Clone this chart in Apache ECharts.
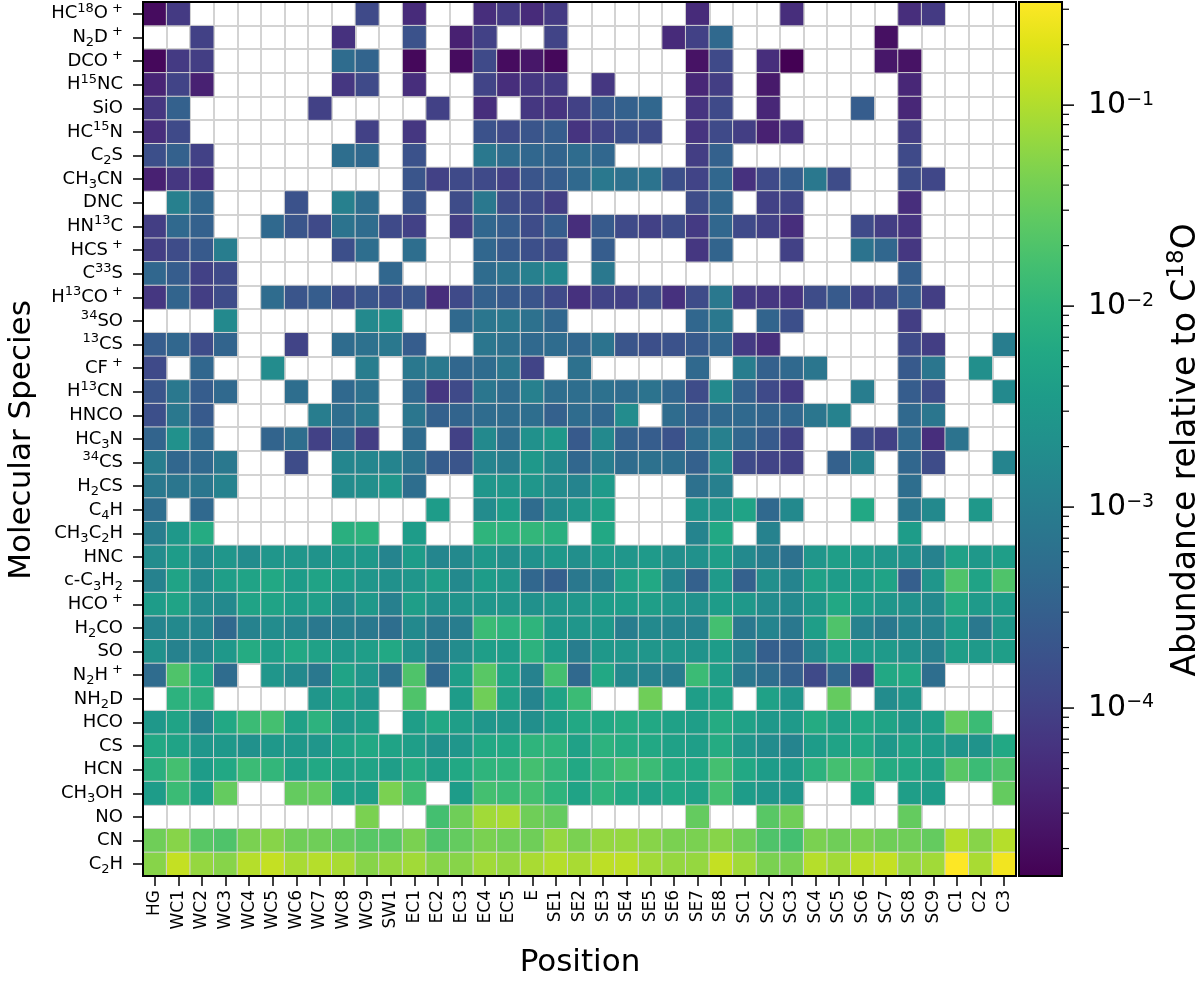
<!DOCTYPE html>
<html>
<head>
<meta charset="utf-8">
<title>Abundance relative to C18O</title>
<script src="https://cdn.jsdelivr.net/npm/echarts@6/dist/echarts.min.js"></script>
<style>
  html, body { margin: 0; padding: 0; background: #fff; }
  #chart { width: 1200px; height: 984px; }
</style>
</head>
<body>
<div id="chart"></div>
<script>
const _ = null;

// positions along the x axis
const positions = ['HG', 'WC1', 'WC2', 'WC3', 'WC4', 'WC5', 'WC6', 'WC7', 'WC8', 'WC9',
  'SW1', 'EC1', 'EC2', 'EC3', 'EC4', 'EC5',
  'E', 'SE1', 'SE2', 'SE3', 'SE4', 'SE5', 'SE6', 'SE7', 'SE8',
  'SC1', 'SC2', 'SC3', 'SC4', 'SC5', 'SC6', 'SC7', 'SC8', 'SC9',
  'C1', 'C2', 'C3'];

// species, top to bottom (^{..} superscript, _{..} subscript)
const species = ['HC^{18}O^{ +}', 'N_{2}D^{ +}', 'DCO^{ +}', 'H^{15}NC', 'SiO', 'HC^{15}N', 'C_{2}S',
  'CH_{3}CN', 'DNC', 'HN^{13}C', 'HCS^{ +}', 'C^{33}S', 'H^{13}CO^{ +}', '^{34}SO', '^{13}CS',
  'CF^{ +}', 'H^{13}CN', 'HNCO', 'HC_{3}N', '^{34}CS', 'H_{2}CS', 'C_{4}H', 'CH_{3}C_{2}H',
  'HNC', 'c-C_{3}H_{2}', 'HCO^{ +}', 'H_{2}CO', 'SO', 'N_{2}H^{ +}', 'NH_{2}D', 'HCO', 'CS',
  'HCN', 'CH_{3}OH', 'NO', 'CN', 'C_{2}H'];

// log10(abundance relative to C18O), one row per species, one column per position
// groups: HG..WC9 | SW1..EC5 | E..SE8 | SC1..SC9 | C1..C3
const logAbundance = [
  [-4.70,-4.10,_,_,_,_,_,_,_,-3.88,  _,-4.31,_,_,-4.27,-4.10,  -4.31,-4.10,_,_,_,_,_,-4.31,_,  _,_,-4.27,_,_,_,_,-4.27,-4.10,  _,_,_],
  [_,_,-4.01,_,_,_,_,_,-4.23,_,  _,-3.75,_,-4.44,-4.01,_,  _,-3.97,_,_,_,_,-4.31,-4.01,-3.36,  _,_,_,_,_,_,-4.66,_,_,  _,_,_],
  [-4.75,-4.10,-4.05,_,_,_,_,_,-3.31,-3.44,  _,-4.75,_,-4.70,-3.88,-4.70,  -4.57,-4.75,_,_,_,_,_,-4.62,-3.88,  _,-4.27,-4.84,_,_,_,-4.57,-4.62,_,  _,_,_],
  [-4.40,-3.97,-4.44,_,_,_,_,_,-4.14,-3.88,  _,-4.27,_,_,-3.97,-4.27,  -4.14,-4.10,_,-4.14,_,_,_,-4.36,-4.05,  _,-4.53,_,_,_,_,_,-4.36,_,  _,_,_],
  [-4.14,-3.49,_,_,_,_,_,-4.01,_,_,  _,_,-4.01,_,-4.27,_,  -4.14,-4.18,-4.01,-3.62,-3.49,-3.40,_,-4.18,-3.88,  _,-4.36,_,_,_,-3.57,_,-4.36,_,  _,_,_],
  [-4.27,-3.88,_,_,_,_,_,_,_,-4.01,  _,-4.14,_,_,-3.75,-3.88,  -3.70,-3.57,-4.18,-3.97,-3.79,-3.88,_,-4.18,-3.88,  -4.05,-4.44,-4.23,_,_,_,_,-4.05,_,  _,_,_],
  [-3.79,-3.49,-4.01,_,_,_,_,_,-3.27,-3.36,  _,-3.75,_,_,-3.10,-3.31,  -3.40,-3.44,-3.31,-3.40,_,_,_,-4.05,-3.49,  _,_,_,_,_,_,_,-3.88,_,  _,_,_],
  [-4.44,-4.14,-4.23,_,_,_,_,_,_,_,  _,-3.70,-4.01,-3.88,-3.88,-4.01,  -3.70,-3.57,-3.36,-3.10,-3.23,-3.18,-3.79,-3.97,-3.40,  -4.23,-3.88,-3.57,-3.10,-3.84,_,_,-3.84,-3.92,  _,_,_],
  [_,-2.96,-3.40,_,_,_,-3.75,_,-2.96,-3.27,  _,-3.70,_,-3.84,-3.10,-3.84,  -3.88,-4.05,_,_,_,_,_,-3.84,-3.40,  _,-4.01,-3.97,_,_,_,_,-4.27,_,  _,_,_],
  [-4.05,-3.36,-3.49,_,_,-3.36,-3.70,-3.88,-3.18,-3.31,  -3.88,-4.01,_,-4.05,-3.40,-3.57,  -3.84,-3.57,-4.27,-3.62,-3.88,-4.01,-3.84,-4.10,-3.40,  -3.88,-4.01,-4.27,_,_,-3.88,-4.05,-4.18,_,  _,_,_],
  [-4.05,-3.84,-3.62,-3.01,_,_,_,_,-3.79,-3.27,  _,-3.27,_,_,-3.40,-3.62,  -3.79,-3.84,_,-3.57,_,_,_,-4.14,-3.44,  _,_,-4.01,_,_,-3.18,-3.40,-4.14,_,  _,_,_],
  [-3.40,-3.57,-4.01,-3.88,_,_,_,_,_,_,  -3.40,_,_,_,-3.31,-3.18,  -2.96,-2.84,_,-3.10,_,_,_,_,_,  _,_,_,_,_,_,_,-3.53,_,  _,_,_],
  [-4.14,-3.44,-4.05,-3.84,_,-3.31,-3.70,-3.57,-3.84,-3.70,  -3.79,-3.70,-4.27,-3.88,-3.49,-3.62,  -3.70,-3.88,-4.23,-3.97,-4.01,-3.84,-4.23,-3.84,-3.10,  -4.10,-4.14,-4.18,-3.84,-3.62,-4.01,-3.88,-3.57,-4.05,  _,_,_],
  [_,_,_,-2.79,_,_,_,_,_,-2.79,  -2.66,_,_,-3.36,-3.14,-3.10,  -3.23,-3.40,_,_,_,_,_,-3.40,-3.10,  _,-3.44,-3.79,_,_,_,_,-4.05,_,  _,_,_],
  [-3.57,-3.40,-3.84,-3.44,_,_,-3.97,_,-3.31,-3.23,  -3.10,-3.57,_,_,-3.14,-3.23,  -3.36,-3.31,-3.40,-3.18,-3.70,-3.79,-3.75,-3.62,-3.40,  -4.10,-4.27,_,_,_,_,_,-3.88,-4.05,  _,_,-3.01],
  [-3.88,_,-3.40,_,_,-2.75,_,_,_,-3.01,  _,-3.10,-3.10,-3.40,-3.31,-3.14,  -3.97,_,-3.23,_,_,_,_,-3.36,_,  -3.01,-3.49,-3.36,-3.14,_,_,_,-3.62,-3.14,  _,-2.70,_],
  [-3.70,-3.10,-3.57,-3.36,_,_,-3.27,_,-3.36,-3.23,  _,-3.36,-4.14,-3.88,-3.14,-3.31,  -2.96,-3.27,-3.27,-3.23,-3.31,-3.18,-3.40,-3.84,-2.79,  -3.49,-3.88,-4.10,_,_,-3.01,_,-3.57,-3.84,  _,_,-2.79],
  [-3.79,-3.10,-3.62,_,_,_,_,-3.01,-3.27,-3.10,  _,-3.14,-3.49,-3.44,-3.31,-3.31,  -3.27,-3.49,-3.31,-3.40,-2.75,_,-3.31,-3.53,-3.36,  -3.36,-3.44,-3.40,-3.14,-2.92,_,_,-3.36,-3.14,  _,_,_],
  [-3.44,-2.66,-3.36,_,_,-3.44,-3.27,-4.01,-3.40,-4.05,  _,-3.31,_,-4.01,-2.79,-3.27,  -2.66,-2.53,-3.62,-2.79,-3.49,-3.57,-3.75,-3.31,-2.96,  -3.40,-3.62,-4.01,_,_,-3.88,-4.01,-3.36,-4.27,  -3.18,_,_],
  [-3.01,-3.40,-3.36,-3.10,_,_,-3.84,_,-2.84,-2.84,  -2.88,-3.18,-3.57,-3.70,-2.88,-3.01,  -2.53,-2.79,-3.40,-3.01,-3.31,-3.23,-3.27,-3.49,-2.75,  -3.88,-3.97,-4.01,_,-3.49,-2.92,_,-3.40,-3.84,  _,_,-2.88],
  [-3.10,-3.14,-3.14,-2.92,_,_,_,_,-2.75,-2.70,  -2.57,-3.27,_,_,-2.57,-2.57,  -2.57,-2.75,-2.88,-2.49,_,_,_,-3.23,-2.96,  _,_,_,_,_,_,_,-3.27,_,  _,_,_],
  [-3.27,_,-3.36,_,_,_,_,_,_,_,  _,_,-2.44,_,-2.75,-2.44,  -3.31,-2.79,-2.57,-2.36,_,_,_,-2.62,-2.57,  -2.31,-3.36,-2.79,_,_,-2.23,_,-3.14,-2.79,  _,-2.53,_],
  [-3.01,-2.53,-2.18,_,_,_,_,_,-2.10,-2.05,  _,-2.44,_,_,-2.01,-2.05,  -1.97,-2.10,_,-2.23,_,_,_,-2.88,-2.23,  _,-2.92,_,_,_,_,_,-2.44,_,  _,_,_],
  [-2.75,-2.44,-2.79,-2.57,-2.75,-2.57,-2.57,-2.62,-2.53,-2.53,  -2.88,-2.44,-2.84,-2.79,-2.53,-2.70,  -2.66,-2.53,-2.70,-2.49,-2.57,-2.49,-2.70,-2.66,-2.40,  -2.79,-3.01,-3.23,-2.57,-2.40,-2.49,-2.57,-2.66,-2.92,  -2.36,-2.53,-2.40],
  [-2.92,-2.31,-2.79,-2.40,-2.31,-2.23,-2.44,-2.31,-2.44,-2.57,  -2.66,-2.57,-2.40,-2.79,-2.44,-2.57,  -3.40,-3.53,-3.10,-2.96,-2.36,-2.23,-2.88,-3.49,-2.49,  -3.49,-2.70,-2.88,-2.36,-2.44,-2.44,-2.31,-3.53,-2.57,  -1.70,-2.31,-1.70],
  [-2.44,-2.31,-2.75,-2.79,-2.31,-2.31,-2.44,-2.40,-2.79,-2.53,  -2.96,-2.40,-2.66,-2.62,-2.57,-2.57,  -2.66,-2.57,-2.57,-2.44,-2.44,-2.40,-2.57,-2.66,-2.44,  -2.53,-2.75,-2.79,-2.53,-2.23,-2.44,-2.57,-2.66,-2.79,  -2.18,-2.49,-2.44],
  [-2.88,-2.79,-2.88,-3.36,-2.92,-2.75,-2.88,-3.10,-3.01,-3.10,  -3.27,-2.79,-3.10,-3.01,-1.88,-2.05,  -2.01,-2.53,-2.57,-2.53,-3.01,-2.79,-2.88,-2.92,-1.79,  -3.10,-2.88,-3.10,-2.40,-1.70,-2.92,-3.10,-2.88,-2.92,  -2.44,-3.10,-2.53],
  [-2.66,-2.92,-2.88,-2.53,-2.18,-2.40,-2.23,-2.36,-2.53,-2.40,  -2.23,-2.66,-3.10,-2.75,-2.40,-2.44,  -2.05,-2.44,-3.01,-2.53,-2.57,-2.57,-2.57,-2.62,-2.44,  -2.96,-3.53,-3.49,-2.79,-2.36,-2.49,-2.49,-2.66,-2.96,  -2.40,-2.49,-2.40],
  [-3.31,-1.70,-2.23,-3.31,_,-2.57,-2.79,-3.10,-2.31,-2.57,  -3.23,-1.70,-3.36,-2.40,-1.62,-2.31,  -2.92,-1.79,-3.36,-2.23,-2.79,-2.92,-3.01,-1.88,-2.40,  -3.10,-3.27,-3.49,-3.88,-3.40,-4.10,-2.23,-2.23,-3.27,  _,_,_],
  [_,-2.05,-2.10,_,_,_,_,-2.57,-2.36,-2.57,  _,-1.70,_,-2.44,-1.44,-2.36,  -2.88,-2.31,-1.88,_,_,-1.44,_,-2.40,-2.31,  _,-2.36,-2.57,_,-1.53,_,-2.75,-2.57,_,  _,_,_],
  [-2.53,-2.31,-2.92,-2.23,-1.88,-1.79,-2.36,-2.05,-2.53,-2.40,  _,-2.40,-2.23,-2.40,-2.57,-2.57,  -2.70,-2.40,-2.23,-2.23,-2.18,-2.23,-2.36,-2.40,-2.18,  -2.36,-2.53,-2.49,-2.18,-2.36,-2.23,-2.31,-2.53,-2.40,  -1.53,-1.88,_],
  [-2.23,-2.31,-2.57,-2.53,-2.66,-2.53,-2.53,-2.57,-2.31,-2.23,  -2.31,-2.40,-2.66,-2.57,-2.23,-2.23,  -2.01,-2.01,-2.36,-2.05,-2.18,-2.23,-2.36,-2.40,-2.18,  -2.57,-2.75,-2.88,-2.44,-2.31,-2.23,-2.53,-2.31,-2.44,  -2.57,-2.62,-2.23],
  [-2.10,-1.79,-2.44,-2.23,-1.88,-1.97,-2.36,-2.23,-2.36,-2.31,  -2.40,-2.18,-2.40,-2.23,-2.01,-2.01,  -1.79,-1.97,-2.23,-1.97,-1.79,-1.88,-2.18,-2.23,-1.79,  -2.23,-2.44,-2.49,-2.05,-1.79,-1.79,-2.18,-2.23,-2.36,  -1.62,-1.88,-1.70],
  [-2.44,-1.88,-2.40,-1.53,_,_,-1.53,-1.53,-2.36,-2.40,  -1.36,-1.79,_,-2.44,-1.79,-1.88,  -1.79,-2.01,-2.31,-2.01,-2.23,-2.36,-2.23,-2.36,-1.79,  -2.44,-2.57,-2.57,_,_,-2.23,_,-2.40,-2.44,  _,_,-1.53],
  [_,_,_,_,_,_,_,_,_,-1.36,  _,_,-1.79,-1.44,-1.10,-1.05,  -1.44,-1.53,_,_,_,_,_,-1.53,_,  _,-1.62,-1.44,_,_,_,_,-1.53,_,  _,_,_],
  [-1.44,-1.27,-1.62,-1.70,-1.36,-1.27,-1.44,-1.44,-1.53,-1.62,  -1.62,-1.36,-1.70,-1.53,-1.36,-1.44,  -1.44,-1.18,-1.36,-1.18,-1.18,-1.27,-1.36,-1.36,-1.27,  -1.44,-1.70,-1.79,-1.36,-1.44,-1.36,-1.44,-1.44,-1.53,  -0.97,-1.27,-0.97],
  [-1.27,-0.88,-1.18,-1.27,-0.97,-0.88,-1.05,-0.97,-1.05,-1.27,  -1.18,-1.10,-1.27,-1.27,-1.10,-1.18,  -1.05,-0.97,-1.05,-0.92,-0.92,-1.10,-1.18,-1.18,-0.88,  -1.10,-1.36,-1.36,-0.97,-1.10,-0.92,-0.88,-1.18,-1.10,  -0.49,-1.05,-0.57]
];

// colour bar range (abundance) and its ticks
const cbarMin = 1.46e-5;
const cbarMax = 0.326;
const cbarMajorTicks = [1e-4, 1e-3, 1e-2, 1e-1];
const minorMantissas = [2, 3, 4, 5, 6, 7, 8, 9];
const minorDecades = [1e-5, 1e-4, 1e-3, 1e-2, 1e-1];

const viridis = ['#440154', '#471365', '#482475', '#463480', '#414487', '#3b528b', '#355f8d',
  '#2f6c8e', '#2a788e', '#25848e', '#21918c', '#1e9c89', '#22a884', '#2fb47c', '#44bf70',
  '#5ec962', '#7ad151', '#9bd93c', '#bddf26', '#dfe318', '#fde725'];

const FONT = 'DejaVu Sans';
const plotBox = { left: 143, top: 2, width: 873, height: 874 };
const cbarBox = { left: 1019, top: 2, width: 43, height: 874 };

function toRich(s) {
  return s.replace(/\^\{([^}]*)\}/g, '{sup|$1}').replace(/_\{([^}]*)\}/g, '{sub|$1}');
}

const cells = [];
logAbundance.forEach((row, r) => {
  row.forEach((v, c) => {
    if (v !== null) cells.push([c, r, v]);
  });
});

const cbarMinorTicks = [];
minorDecades.forEach(d => {
  minorMantissas.forEach(m => {
    const v = m * d;
    if (v > cbarMin && v < cbarMax) cbarMinorTicks.push(v);
  });
});

function renderColorbar(params, api) {
  const top = api.coord([0, cbarMax]);
  const bottom = api.coord([1, cbarMin]);
  const stops = viridis.map((c, i) => ({ offset: i / (viridis.length - 1), color: c }));
  return {
    type: 'rect',
    shape: { x: top[0], y: top[1], width: bottom[0] - top[0], height: bottom[1] - top[1] },
    style: { fill: new echarts.graphic.LinearGradient(0, 1, 0, 0, stops) }
  };
}

function renderMajorTick(params, api) {
  const value = api.value(1);
  const p = api.coord([1, value]);
  const exp = Math.round(Math.log10(value));
  return {
    type: 'group',
    children: [
      { type: 'line', shape: { x1: p[0], y1: p[1], x2: p[0] + 12, y2: p[1] }, style: { stroke: '#000', lineWidth: 1.5 } },
      {
        type: 'text', x: p[0] + 26, y: p[1],
        style: {
          text: '10{sup|\u2212' + Math.abs(exp) + '}',
          fontSize: 30, fontFamily: FONT, lineHeight: 30, fill: '#000',
          align: 'left', verticalAlign: 'middle',
          rich: { sup: { fontSize: 19, lineHeight: 19, verticalAlign: 'top', fontFamily: FONT, fill: '#000' } }
        }
      }
    ]
  };
}

function renderMinorTick(params, api) {
  const p = api.coord([1, api.value(1)]);
  return {
    type: 'line',
    shape: { x1: p[0], y1: p[1], x2: p[0] + 7, y2: p[1] },
    style: { stroke: '#000', lineWidth: 1.2 }
  };
}

const chart = echarts.init(document.getElementById('chart'));

const option = {
  animation: false,
  backgroundColor: '#fff',
  textStyle: { fontFamily: FONT },
  grid: [
    { left: plotBox.left, top: plotBox.top, width: plotBox.width, height: plotBox.height },
    { left: cbarBox.left, top: cbarBox.top, width: cbarBox.width, height: cbarBox.height }
  ],
  xAxis: [
    {
      type: 'category', gridIndex: 0, data: positions, boundaryGap: true,
      axisLine: { show: false },
      axisTick: { show: true, alignWithLabel: true, length: 10, lineStyle: { color: '#000', width: 1.5 } },
      axisLabel: { rotate: 90, interval: 0, fontSize: 17, color: '#000', margin: 14, fontFamily: FONT },
      splitLine: { show: true, interval: 0, lineStyle: { color: '#d3d3d3', width: 2 } }
    },
    { type: 'value', gridIndex: 1, min: 0, max: 1, show: false }
  ],
  yAxis: [
    {
      type: 'category', gridIndex: 0, data: species, inverse: true,
      axisLine: { show: false },
      axisTick: { show: true, alignWithLabel: true, length: 10, lineStyle: { color: '#000', width: 1.5 } },
      axisLabel: {
        interval: 0, fontSize: 18, lineHeight: 24, color: '#000', margin: 20, fontFamily: FONT,
        formatter: toRich,
        rich: {
          sup: { fontSize: 13, lineHeight: 17, verticalAlign: 'top', color: '#000', fontFamily: FONT },
          sub: { fontSize: 13, lineHeight: 10, verticalAlign: 'bottom', color: '#000', fontFamily: FONT }
        }
      },
      splitLine: { show: true, interval: 0, lineStyle: { color: '#d3d3d3', width: 2 } }
    },
    { type: 'log', gridIndex: 1, logBase: 10, min: cbarMin, max: cbarMax, show: false }
  ],
  visualMap: {
    type: 'continuous', show: false, seriesIndex: 0, dimension: 2,
    min: Math.log10(cbarMin), max: Math.log10(cbarMax),
    inRange: { color: viridis }
  },
  series: [
    {
      type: 'heatmap', xAxisIndex: 0, yAxisIndex: 0, data: cells,
      itemStyle: { borderColor: '#d3d3d3', borderWidth: 1 },
      emphasis: { disabled: true }
    },
    { type: 'custom', xAxisIndex: 1, yAxisIndex: 1, data: [[0, cbarMin]], renderItem: renderColorbar, silent: true },
    { type: 'custom', xAxisIndex: 1, yAxisIndex: 1, data: cbarMinorTicks.map(v => [1, v]), renderItem: renderMinorTick, silent: true },
    { type: 'custom', xAxisIndex: 1, yAxisIndex: 1, data: cbarMajorTicks.map(v => [1, v]), renderItem: renderMajorTick, silent: true }
  ],
  graphic: [
    {
      type: 'rect', z: 100, silent: true,
      shape: { x: plotBox.left, y: plotBox.top, width: plotBox.width, height: plotBox.height },
      style: { fill: 'none', stroke: '#000', lineWidth: 2 }
    },
    {
      type: 'rect', z: 100, silent: true,
      shape: { x: cbarBox.left, y: cbarBox.top, width: cbarBox.width, height: cbarBox.height },
      style: { fill: 'none', stroke: '#000', lineWidth: 2 }
    },
    {
      type: 'text', x: 580, y: 963, silent: true,
      style: { text: 'Position', fontSize: 31, fontFamily: FONT, fill: '#000', align: 'center', verticalAlign: 'middle' }
    },
    {
      type: 'text', x: 22, y: 440, rotation: Math.PI / 2, silent: true,
      style: { text: 'Molecular Species', fontSize: 31, fontFamily: FONT, fill: '#000', align: 'center', verticalAlign: 'middle' }
    },
    {
      type: 'text', x: 1186, y: 450, rotation: Math.PI / 2, silent: true,
      style: {
        text: 'Abundance relative to C{sup|18}O', fontSize: 33, lineHeight: 40, fontFamily: FONT, fill: '#000',
        align: 'center', verticalAlign: 'middle',
        rich: { sup: { fontSize: 23, lineHeight: 28, verticalAlign: 'top', fontFamily: FONT, fill: '#000' } }
      }
    }
  ]
};

chart.setOption(option);
</script>
</body>
</html>
